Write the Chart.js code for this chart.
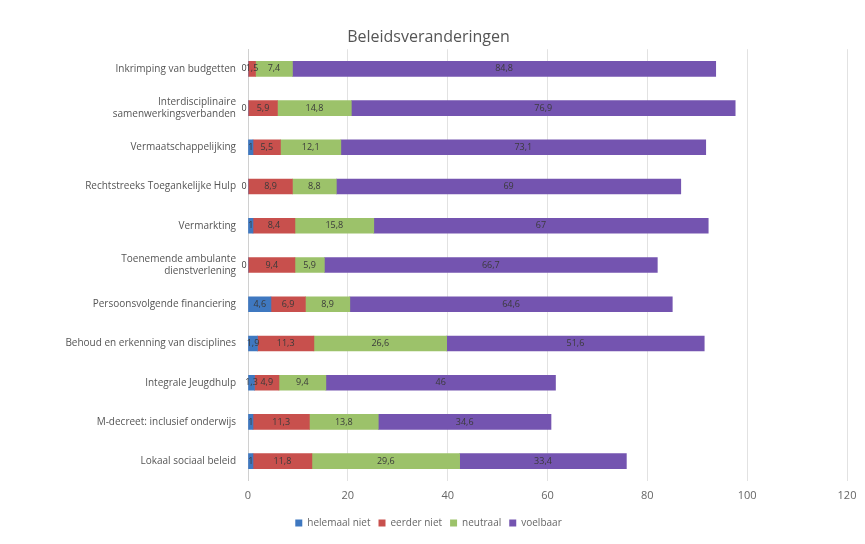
<!DOCTYPE html>
<html>
<head>
<meta charset="utf-8">
<script src="https://cdn.jsdelivr.net/npm/chart.js@4/dist/chart.umd.min.js"></script>
<style>
  html, body { margin: 0; padding: 0; background: #fff; }
  #wrap { width: 865px; height: 544px; }
</style>
</head>
<body>
<div id="wrap"><canvas id="chart"></canvas></div>
<script>
// Categories, top to bottom as in the picture
const categories = [
  'Inkrimping van budgetten',
  ['Interdisciplinaire', 'samenwerkingsverbanden'],
  'Vermaatschappelijking',
  'Rechtstreeks Toegankelijke Hulp',
  'Vermarkting',
  ['Toenemende ambulante', 'dienstverlening'],
  'Persoonsvolgende financiering',
  'Behoud en erkenning van disciplines',
  'Integrale Jeugdhulp',
  'M-decreet: inclusief onderwijs',
  'Lokaal sociaal beleid'
];

// Percentages per answer
const helemaalNiet = [0, 0, 1, 0, 1, 0, 4.6, 1.9, 1.3, 1, 1];
const eerderNiet   = [1.5, 5.9, 5.5, 8.9, 8.4, 9.4, 6.9, 11.3, 4.9, 11.3, 11.8];
const neutraal     = [7.4, 14.8, 12.1, 8.8, 15.8, 5.9, 8.9, 26.6, 9.4, 13.8, 29.6];
const voelbaar     = [84.8, 76.9, 73.1, 69, 67, 66.7, 64.6, 51.6, 46, 34.6, 33.4];

const xTicks = [0, 20, 40, 60, 80, 100, 120];

const makeSet = (label, data, color) => ({
  label,
  data,
  backgroundColor: color,
  borderWidth: 0,
  barThickness: 15
});

// Draws the value in the middle of each bar piece
const valueLabels = {
  id: 'valueLabels',
  afterDatasetsDraw(chart) {
    const ctx = chart.ctx;
    ctx.save();
    ctx.font = '9px "Open Sans", sans-serif';
    ctx.fillStyle = '#3a3a3a';
    ctx.textAlign = 'center';
    ctx.textBaseline = 'middle';
    chart.data.datasets.forEach((ds, i) => {
      const meta = chart.getDatasetMeta(i);
      meta.data.forEach((bar, j) => {
        const v = ds.data[j];
        let x = (bar.x + bar.base) / 2;
        if (v === 0) x = bar.base - 4;
        ctx.fillText(String(v).replace('.', ','), x, bar.y);
      });
    });
    ctx.restore();
  }
};

new Chart(document.getElementById('chart'), {
  type: 'bar',
  data: {
    labels: categories,
    datasets: [
      makeSet('helemaal niet', helemaalNiet, '#3f78c0'),
      makeSet('eerder niet', eerderNiet, '#c8504d'),
      makeSet('neutraal', neutraal, '#9cc26a'),
      makeSet('voelbaar', voelbaar, '#7454b0')
    ]
  },
  options: {
    indexAxis: 'y',
    responsive: true,
    maintainAspectRatio: false,
    animation: false,
    layout: { padding: { top: 28, left: 10, right: 18, bottom: 6 } },
    scales: {
      x: {
        stacked: true,
        min: 0,
        max: 120,
        afterBuildTicks: (scale) => { scale.ticks = xTicks.map(v => ({ value: v })); },
        grid: { color: '#e2e2e2', drawTicks: false },
        border: { display: false },
        ticks: { color: '#666', font: { size: 11, family: '"Open Sans", sans-serif' }, padding: 8 }
      },
      y: {
        stacked: true,
        grid: { display: false },
        border: { color: '#d0d0d0' },
        afterFit: (scale) => { scale.width = 238; },
        ticks: { color: '#555', font: { size: 10, family: '"Open Sans", sans-serif' }, padding: 4 }
      }
    },
    plugins: {
      title: {
        display: true,
        text: 'Beleidsveranderingen',
        color: '#555',
        font: { size: 16, weight: 'normal', family: '"Open Sans", sans-serif' },
        padding: { top: 0, bottom: 2 }
      },
      legend: {
        position: 'bottom',
        labels: {
          boxWidth: 7,
          boxHeight: 7,
          color: '#666',
          font: { size: 10, family: '"Open Sans", sans-serif' },
          padding: 8
        }
      },
      tooltip: { enabled: false }
    }
  },
  plugins: [valueLabels]
});
</script>
</body>
</html>
